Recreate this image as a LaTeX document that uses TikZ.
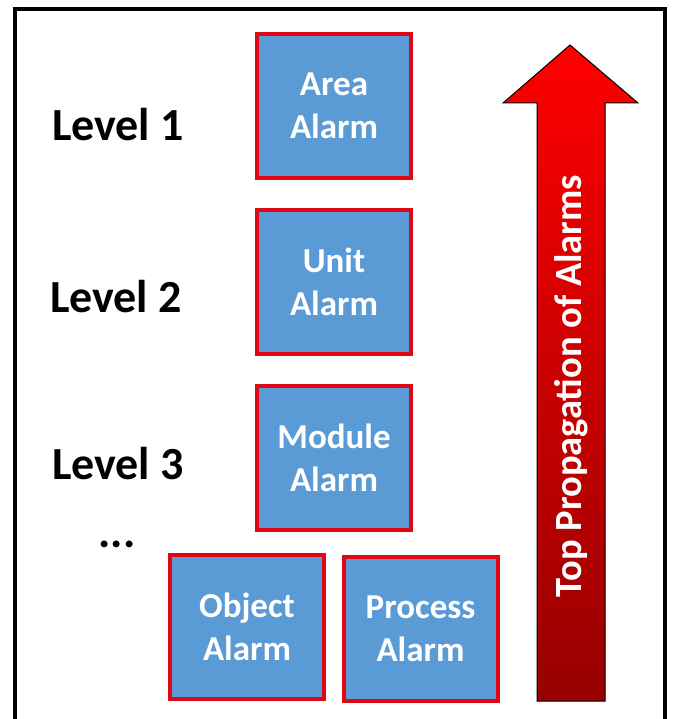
\documentclass[tikz,border=0pt]{standalone}
\usepackage{fontspec}
\setmainfont{Carlito}
\usetikzlibrary{positioning}
\definecolor{boxblue}{RGB}{91,155,213}
\definecolor{boxred}{RGB}{222,8,20}
\definecolor{arrowtop}{RGB}{255,0,0}
\definecolor{arrowbot}{RGB}{150,0,0}

\begin{document}
\begin{tikzpicture}[x=1pt, y=-1pt,
    alarm/.style={draw=boxred, line width=4pt, fill=boxblue, minimum width=154pt, minimum height=144pt,
        align=center, text=white, font=\fontsize{35}{43}\selectfont\bfseries},
    level/.style={font=\fontsize{46}{50}\selectfont\bfseries, inner sep=0pt}]
            \useasboundingbox (0,0) rectangle (693,719);
            \draw[line width=4pt] (15,725) -- (15,9) -- (665,9) -- (665,725);

            \node[alarm] at (334, 106)   (area) {Area\\Alarm};
            \node[alarm, below=28pt of area]   (unit) {Unit\\Alarm};
            \node[alarm, below=28pt of unit]   (module) {Module\\Alarm};
            \node[alarm] at (247, 627)   (object) {Object\\Alarm};
            \node[alarm] at (420.5, 629) (process) {Process\\Alarm};

            \node[level] at (118, 125)   (l1) {Level 1};
            \node[level] at (116, 297)   (l2) {Level 2};
            \node[level] at (118, 464)   (l3) {Level 3};
            \node[level] at (117, 544)   (dots) {...};

            \shade[top color=arrowtop, bottom color=arrowbot, draw=black, line width=1pt]
                (570,45) -- (638,103) -- (605,103) -- (605,701) -- (537,701) -- (537,103) -- (503,103) -- cycle;
            \node[rotate=90, text=white, font=\fontsize{38.5}{40}\selectfont\bfseries] at (571, 386) (prop) {Top Propagation of Alarms};
        \end{tikzpicture}
\end{document}
